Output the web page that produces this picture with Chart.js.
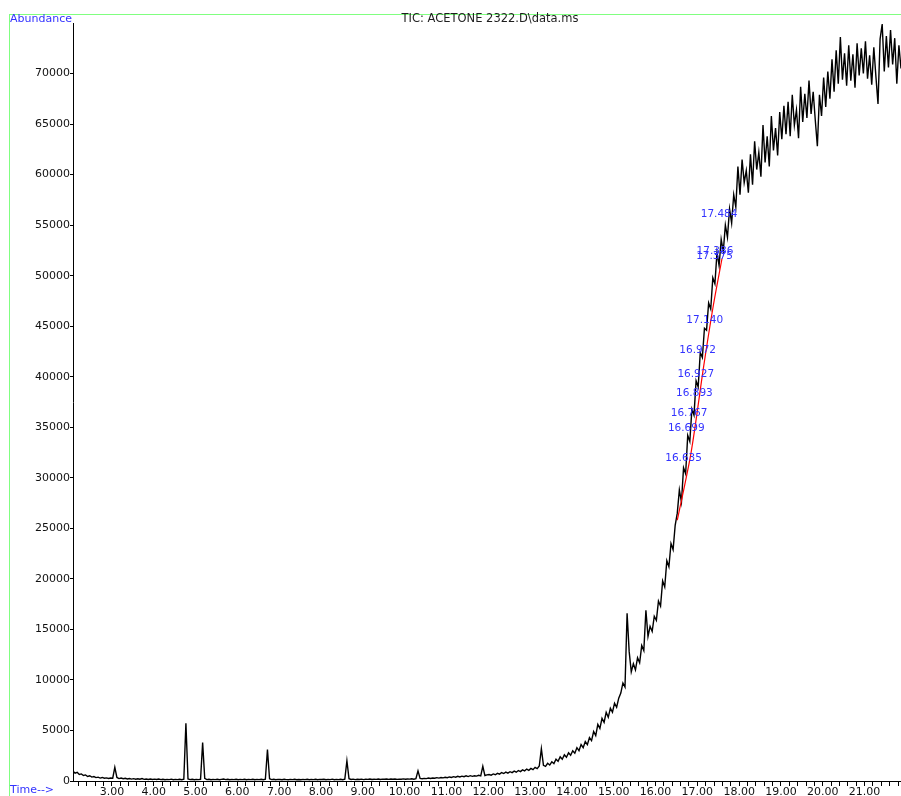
<!DOCTYPE html>
<html><head><meta charset="utf-8">
<script src="https://cdn.jsdelivr.net/npm/chart.js@4.4.1/dist/chart.umd.min.js"></script>
<style>html,body{margin:0;padding:0;background:#fff;}canvas{display:block;}</style>
</head><body>
<canvas id="c" width="901" height="796"></canvas>
<script>
// ---- texts ----
const chartTitle = 'TIC: ACETONE 2322.D\\data.ms';
const yAxisTitle = 'Abundance';
const xAxisTitle = 'Time-->';

// ---- scan grid (min) ----
const scanStep = 0.05;

// ---- TIC abundance, segment by segment ----
const seg1Start = 2.07;
const seg1 = [950,780,860,640,700,540,600,450,520,390,440,340,380,290,350,270,310,250,300,280,
  1350,350,240,290,220,270,200,250,190,230,180,220,170,240,160,200,150,190,150,180,
  150,200,140,170,130,160,140,180,130,160,140,170,130,180,5700,200,140,170,130,160,
  140,170,3800,260,140,170,130,160,140,170,130,160,190,140,170,130,160,140,170,130,
  160,140,170,130,160,140,170,130,160,140,170,130,180,3100,220,140,170,130,160];
const seg2Start = 7.02;
const seg2 = [150,130,170,140,120,160,140,170,130,150,120,160,140,170,130,160,140,170,130,160,
  150,170,130,160,140,180,130,160,140,170,130,180,2000,230,150,180,140,170,150,180,
  140,170,160,190,150,170,160,190,150,180,170,200,160,190,170,200,160,190,180,210,
  170,200,190,220,180,230,1000,260,220,260,240,290,250,300,270,330,290,350,310,370,
  330,400,350,430,380,460,400,480,420,510,440,530,460,520,480,560,500,1450,540,600];
const seg3Start = 12.02;
const seg3 = [640,580,700,620,760,680,840,740,880,780,920,830,980,870,1040,930,1100,1000,1180,1060,
  1250,1120,1350,1220,1480,3200,1550,1450,1750,1580,1900,1720,2150,1950,2400,2150,2600,2350,2800,2550,
  3000,2750,3300,3000,3600,3300,3900,3600,4300,4000,4900,4500,5600,5200,6200,5800,6800,6300,7200,6800,
  7700,7300,8200,8700,9700,9300,16600,12800,10800,11600,11000,12200,11700,13400,12900,16900,14300,15300,14800,16300,
  15900,17800,17300,19800,19200,21800,21200,23500,22900,25300];
const seg4Start = 16.52;
const seg4 = [26500,28800,27600,31000,30400,34200,33600,36800,36200,39600,
  39000,42400,41900,44800,44600,47300,46700,49800,49200,52300,
  51000,53600,52400,55000,53800,56600,55200,58000,56800,60800,
  58000,61500,59200,60400,58200,62000,59000,63300,60500,62200,
  59800,64900,61200,63800,60800,65800,62400,64600,61900,66200];
const seg5Start = 19.02;
const seg5 = [63500,66800,64000,67200,63800,67900,64900,66400,63600,68700,
  65200,68000,65600,69300,66000,68200,65400,62800,67900,65800,
  69600,66700,70200,67500,71400,68200,72300,69000,73600,69400,
  72000,68800,72800,69300,71900,68600,73000,69800,72500,70000,
  73200,69500,71800,68900,72600,69700,67000,73400,74900,70200,
  73700,70600,74300,70900,73500,69000,72800,70500];

// ---- red fitted segment ----
const fitTimes  = [16.52, 16.85, 17.15, 17.38, 17.59];
const fitValues = [25800, 32500, 41000, 47000, 51700];

// ---- retention-time labels ----
const peakTimes  = [16.635, 16.699, 16.767, 16.893, 16.927, 16.972, 17.140, 17.375, 17.386, 17.484];
const peakLabelY = [31900, 34900, 36400, 38400, 40200, 42650, 45600, 51950, 52450, 56100];

// ---- axes ----
const xMin = 2.07, xMax = 21.87;
const xLabelTimes = [3,4,5,6,7,8,9,10,11,12,13,14,15,16,17,18,19,20,21];
const yTicks = [0,5000,10000,15000,20000,25000,30000,35000,40000,45000,50000,55000,60000,65000,70000];
const yMax = 75000;

function seg(start, vals){ return vals.map((v,i)=>({x:+(start+i*scanStep).toFixed(3), y:v})); }
const tic = [].concat(seg(seg1Start,seg1), seg(seg2Start,seg2), seg(seg3Start,seg3), seg(seg4Start,seg4), seg(seg5Start,seg5));
const fit = fitTimes.map((t,i)=>({x:t, y:fitValues[i]}));

const minorTicks = [];
for (let k = Math.ceil(xMin*5); k <= Math.floor(xMax*5); k++) minorTicks.push(k/5);

const FONT = 'DejaVu Sans';
const BLUE = '#3333ff';

const decor = {
  id:'decor',
  beforeDraw(chart){
    const c = chart.ctx; c.save(); c.fillStyle = '#fff'; c.fillRect(0,0,chart.width,chart.height); c.restore();
  },
  afterDraw(chart){
    const c = chart.ctx, xs = chart.scales.x, ys = chart.scales.y;
    c.save();
    c.fillStyle = '#80ff80';
    c.fillRect(9, 14, 892, 1);
    c.fillRect(9, 14, 1, 782);
    c.textBaseline = 'middle';
    c.font = '11px "' + FONT + '"';
    c.fillStyle = BLUE; c.textAlign = 'left';
    c.fillText(yAxisTitle, 10, 19.5);
    c.fillText(xAxisTitle, 10, 790.5);
    c.fillStyle = '#1e1e1e'; c.textAlign = 'center';
    c.font = '11.5px "' + FONT + '"';
    c.fillText(chartTitle, 490, 19.5);
    c.font = '10.5px "' + FONT + '"';
    c.fillStyle = BLUE;
    peakTimes.forEach((t,i)=>{
      c.fillText(t.toFixed(3), xs.getPixelForValue(t) + 1.5, ys.getPixelForValue(peakLabelY[i]));
    });
    c.restore();
  }
};

new Chart(document.getElementById('c').getContext('2d'), {
  type:'line',
  data:{datasets:[
    {data: fit, borderColor:'#ff0000', borderWidth:1.2, pointRadius:0, tension:0.3, order:0},
    {data: tic, borderColor:'#000000', borderWidth:1.4, pointRadius:0, tension:0, order:1}
  ]},
  options:{
    responsive:false, animation:false, devicePixelRatio:1,
    layout:{padding:{top:23,left:0,right:0,bottom:0}},
    plugins:{legend:{display:false}, tooltip:{enabled:false}},
    scales:{
      x:{type:'linear', min:xMin, max:xMax,
        afterBuildTicks(s){ s.ticks = minorTicks.map(v=>({value:v})); },
        afterFit(s){ s.height = 15; },
        ticks:{autoSkip:false, maxRotation:0, minRotation:0, padding:0, color:'#111',
          font:{family:FONT, size:11},
          callback(v){ const r = Math.round(v); return (Math.abs(v-r)<1e-6 && xLabelTimes.includes(r)) ? r.toFixed(2) : ''; }},
        grid:{drawOnChartArea:false, drawTicks:true, tickLength:5, color:'#000', tickColor:'#000', tickWidth:1},
        border:{display:true, color:'#000', width:1}
      },
      y:{type:'linear', min:0, max:yMax,
        afterBuildTicks(s){ s.ticks = yTicks.map(v=>({value:v})); },
        afterFit(s){ s.width = 73; },
        ticks:{padding:0, color:'#111', font:{family:FONT, size:11}, callback(v){ return String(v); }},
        grid:{drawOnChartArea:false, drawTicks:true, tickLength:3, color:'#000', tickColor:'#000', tickWidth:1},
        border:{display:true, color:'#000', width:1}
      }
    }
  },
  plugins:[decor]
});
</script>
</body></html>
